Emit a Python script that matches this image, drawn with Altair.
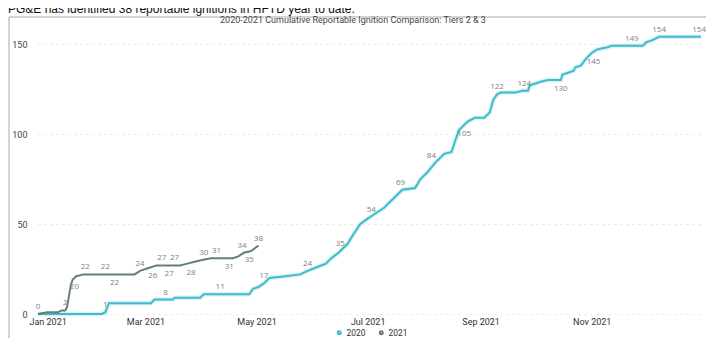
import altair as alt
import pandas as pd

# ---------------- data ----------------
series_names = ["2020", "2021"]
series_colors = ["#3EBCCB", "#667F76"]

dates_2020 = [
    "2021-01-01", "2021-02-05", "2021-02-07", "2021-02-09", "2021-03-04", "2021-03-06",
    "2021-03-16", "2021-03-17", "2021-03-31", "2021-04-02", "2021-04-27", "2021-04-29",
    "2021-05-02", "2021-05-05", "2021-05-08", "2021-05-17", "2021-05-25", "2021-05-29",
    "2021-06-03", "2021-06-08", "2021-06-11", "2021-06-15", "2021-06-20", "2021-06-23",
    "2021-06-27", "2021-07-01", "2021-07-04", "2021-07-10", "2021-07-15", "2021-07-20",
    "2021-07-27", "2021-07-30", "2021-08-03", "2021-08-07", "2021-08-12", "2021-08-16",
    "2021-08-18", "2021-08-20", "2021-08-25", "2021-08-29", "2021-09-03", "2021-09-06",
    "2021-09-08", "2021-09-10", "2021-09-12", "2021-09-20", "2021-09-24", "2021-09-27",
    "2021-09-28", "2021-10-04", "2021-10-08", "2021-10-15", "2021-10-16", "2021-10-19",
    "2021-10-22", "2021-10-23", "2021-10-26", "2021-10-29", "2021-11-01", "2021-11-04",
    "2021-11-09", "2021-11-12", "2021-11-29", "2021-12-01", "2021-12-04", "2021-12-08",
    "2021-12-31",
]
values_2020 = [
    0, 0, 1, 6, 6, 8,
    8, 9, 9, 11, 11, 14,
    15, 17, 20, 21, 22, 24,
    26, 28, 31, 34, 39, 44,
    50, 53, 55, 59, 64, 69,
    70, 75, 79, 84, 89, 90,
    96, 102, 107, 109, 109, 112,
    119, 122, 123, 123, 124, 124,
    127, 129, 130, 130, 133, 134,
    135, 137, 138, 142, 145, 147,
    148, 149, 149, 151, 152, 154,
    154,
]

dates_2021 = [
    "2021-01-01", "2021-01-06", "2021-01-12", "2021-01-14", "2021-01-16", "2021-01-17",
    "2021-01-19", "2021-01-20", "2021-01-22", "2021-01-26", "2021-02-23", "2021-02-26",
    "2021-03-01", "2021-03-04", "2021-03-07", "2021-03-20", "2021-03-24", "2021-03-28",
    "2021-04-01", "2021-04-06", "2021-04-18", "2021-04-21", "2021-04-24", "2021-04-28",
    "2021-05-02",
]
values_2021 = [
    0, 1, 1, 2, 2, 4,
    16, 19, 21, 22, 22, 24,
    25, 26, 27, 27, 28, 29,
    30, 31, 31, 32, 34, 35,
    38,
]

# data labels (above / below the line; the last one sits at the right edge)
lab2020_above_dates = ["2021-02-07", "2021-03-12", "2021-04-11", "2021-05-05", "2021-05-29",
                       "2021-06-16", "2021-07-03", "2021-07-19", "2021-08-05", "2021-09-10",
                       "2021-09-25", "2021-11-23", "2021-12-08"]
lab2020_above_values = [1, 8, 11, 17, 24, 35, 54, 69, 84, 122, 124, 149, 154]
lab2020_end_dates = ["2021-12-31"]
lab2020_end_values = [154]
lab2020_below_dates = ["2021-08-23", "2021-10-15", "2021-11-02"]
lab2020_below_values = [105, 130, 145]

lab2021_above_dates = ["2021-01-01", "2021-01-16", "2021-01-27", "2021-02-07", "2021-02-26",
                       "2021-03-10", "2021-03-17", "2021-04-02", "2021-04-09", "2021-04-23",
                       "2021-05-02"]
lab2021_above_values = [0, 2, 22, 22, 24, 27, 27, 30, 31, 34, 38]
lab2021_below_dates = ["2021-01-21", "2021-02-12", "2021-03-05", "2021-03-14", "2021-03-26",
                       "2021-04-16", "2021-04-27"]
lab2021_below_values = [20, 22, 26, 27, 28, 31, 35]

x_ticks = ["2021-01-01", "2021-03-01", "2021-05-01", "2021-07-01", "2021-09-01", "2021-11-01"]
y_ticks = [0, 50, 100, 150]

header_text = "PG&E has identified 38 reportable ignitions in HFTD year to date."
chart_title = "2020-2021 Cumulative Reportable Ignition Comparison: Tiers 2 & 3"

# ---------------- tables ----------------
lines = pd.concat([
    pd.DataFrame({"date": dates_2020, "value": values_2020, "series": "2020"}),
    pd.DataFrame({"date": dates_2021, "value": values_2021, "series": "2021"}),
])
labels_above = pd.DataFrame({
    "date": lab2020_above_dates + lab2021_above_dates,
    "value": lab2020_above_values + lab2021_above_values,
})
labels_below = pd.DataFrame({
    "date": lab2020_below_dates + lab2021_below_dates,
    "value": lab2020_below_values + lab2021_below_values,
})
labels_end = pd.DataFrame({"date": lab2020_end_dates, "value": lab2020_end_values})
one = pd.DataFrame({"a": [0]})


def dt(s):
    y, m, d = (int(p) for p in s.split("-"))
    return alt.DateTime(year=y, month=m, date=d, utc=True)


xscale = alt.Scale(type="utc", domain=[dt("2021-01-01"), dt("2021-12-31")])
yscale = alt.Scale(domain=[0, 160], nice=False)

xaxis = alt.Axis(values=[dt(s) for s in x_ticks], format="%b %Y",
                 labelFlush=5, labelFlushOffset=9,
                 labelFontSize=9, labelColor="#333333", labelFont="Roboto",
                 ticks=False, tickSize=0, domain=False, grid=False, labelPadding=3)
yaxis = alt.Axis(values=y_ticks, labelFontSize=9, labelColor="#444444", labelFont="Roboto",
                 ticks=False, tickSize=0, domain=False, grid=True, gridColor="#E6E6E6",
                 gridDash=[2, 4], labelPadding=11)

LEFT, TOP, W, H = 30, 18, 663, 288

border = alt.Chart(one).mark_rect(fill="white", fillOpacity=0, stroke="#A8A8A8",
                                  strokeWidth=1).encode(
    x=alt.value(-LEFT + 1), x2=alt.value(W + 20), y=alt.value(-TOP + 9), y2=alt.value(H + 60)
)

header = alt.Chart(one).mark_text(align="left", baseline="alphabetic", fontSize=12,
                                  font="Liberation Sans", color="#111111").encode(
    x=alt.value(-LEFT), y=alt.value(-TOP + 5), text=alt.value(header_text)
)

title = alt.Chart(one).mark_text(align="center", baseline="middle", fontSize=9,
                                 font="Roboto", color="#444444").encode(
    x=alt.value(315), y=alt.value(-6.5), text=alt.value(chart_title)
)

halo = alt.Chart(lines).transform_filter(alt.datum.series == "2020").mark_line(
    strokeWidth=4.5, color="#B4E6EC", opacity=0.5).encode(
    x=alt.X("date:T", scale=xscale, title=None),
    y=alt.Y("value:Q", scale=yscale, title=None),
)

main = alt.Chart(lines).mark_line(strokeWidth=2).encode(
    x=alt.X("date:T", scale=xscale, axis=xaxis, title=None),
    y=alt.Y("value:Q", scale=yscale, axis=yaxis, title=None),
    color=alt.Color("series:N",
                    scale=alt.Scale(domain=series_names, range=series_colors),
                    legend=alt.Legend(orient="none", legendX=297, legendY=302,
                                      direction="horizontal", title=None,
                                      symbolType="circle", symbolSize=4,
                                      symbolStrokeWidth=3, labelFontSize=8.5,
                                      labelColor="#333333", labelFont="Roboto",
                                      labelOffset=3, columnPadding=8)),
    detail="series:N",
)

txt_above = alt.Chart(labels_above).mark_text(dy=-7, fontSize=8, font="Open Sans",
                                              color="#808080").encode(
    x=alt.X("date:T", scale=xscale, title=None),
    y=alt.Y("value:Q", scale=yscale, title=None),
    text="value:Q",
)
txt_end = alt.Chart(labels_end).mark_text(dy=-7, dx=5, align="right", fontSize=8,
                                          font="Open Sans", color="#808080").encode(
    x=alt.X("date:T", scale=xscale, title=None),
    y=alt.Y("value:Q", scale=yscale, title=None),
    text="value:Q",
)
txt_below = alt.Chart(labels_below).mark_text(dy=9, fontSize=8, font="Open Sans",
                                              color="#808080").encode(
    x=alt.X("date:T", scale=xscale, title=None),
    y=alt.Y("value:Q", scale=yscale, title=None),
    text="value:Q",
)

chart = alt.layer(border, header, title, halo, main, txt_above, txt_end, txt_below).properties(
    width=W, height=H,
    autosize="none",
    padding={"left": LEFT, "top": TOP, "right": 5, "bottom": 24},
).configure_view(strokeWidth=0)

chart.save("out.html", embed_options={"renderer": "svg", "actions": False})
